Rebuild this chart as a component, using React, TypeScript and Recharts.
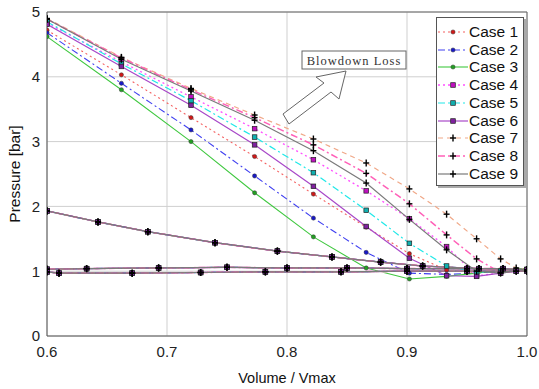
import React from 'react';
import { LineChart, Line, XAxis, YAxis, CartesianGrid, ReferenceLine } from 'recharts';

// volume positions of the expansion markers
const EXP_V = [0.6, 0.662, 0.72, 0.773, 0.822, 0.866, 0.902, 0.933, 0.958, 0.978, 0.991, 1.0];

// expansion pressure for each case [bar]
const CASE1_P = [4.72, 4.03, 3.37, 2.77, 2.19, 1.68, 1.27, 1.02, 0.98, 1.0, 1.01, 1.02];
const CASE2_P = [4.68, 3.9, 3.18, 2.47, 1.82, 1.29, 0.97, 0.95, 0.97, 1.0, 1.0, 1.02];
const CASE3_P = [4.62, 3.8, 3.0, 2.21, 1.53, 1.05, 0.88, 0.92, 0.97, 1.02, 1.03, 1.04];
const CASE4_P = [4.83, 4.23, 3.69, 3.2, 2.72, 2.24, 1.81, 1.38, 0.93, 0.97, 1.0, 1.03];
const CASE5_P = [4.85, 4.2, 3.63, 3.07, 2.52, 1.94, 1.43, 1.08, 0.98, 1.0, 1.0, 1.02];
const CASE6_P = [4.81, 4.16, 3.56, 2.95, 2.31, 1.69, 1.2, 0.93, 0.92, 0.97, 1.0, 1.02];
const CASE7_P = [4.9, 4.3, 3.82, 3.41, 3.04, 2.67, 2.27, 1.88, 1.5, 1.19, 1.05, 1.02];
const CASE8_P = [4.89, 4.29, 3.8, 3.37, 2.95, 2.51, 2.04, 1.56, 1.19, 0.98, 1.0, 1.02];
const CASE9_P = [4.89, 4.27, 3.78, 3.33, 2.86, 2.36, 1.8, 1.33, 1.0, 0.97, 1.0, 1.02];

// low pressure part of the loop, common to all cases
const EXHAUST_V = [0.98, 0.95, 0.9, 0.85, 0.8, 0.75, 0.693, 0.633, 0.6];
const EXHAUST_P = [1.04, 1.04, 1.04, 1.05, 1.05, 1.06, 1.05, 1.04, 1.03];
const INTAKE_V = [0.6, 0.61, 0.671, 0.728, 0.782, 0.845, 0.9, 0.95, 1.0];
const INTAKE_P = [0.99, 0.97, 0.97, 0.98, 0.99, 0.99, 1.0, 1.0, 1.0];
const COMP_V = [1.0, 0.96, 0.913, 0.878, 0.8375, 0.792, 0.74, 0.684, 0.6425, 0.6];
const COMP_P = [1.02, 1.04, 1.08, 1.14, 1.22, 1.31, 1.44, 1.61, 1.76, 1.93];

const X_TICKS = [0.6, 0.7, 0.8, 0.9, 1.0];
const Y_TICKS = [0, 1, 2, 3, 4, 5];

type Marker = 'circle' | 'square' | 'plus';

const CASES: { name: string; pressure: number[]; color: string; dash?: string; width: number; marker: Marker; markerFill: string }[] = [
  { name: 'Case 1', pressure: CASE1_P, color: '#f46060', dash: '2 3', width: 1.1, marker: 'circle', markerFill: '#d01818' },
  { name: 'Case 2', pressure: CASE2_P, color: '#4040f0', dash: '7 3 2 3', width: 1.1, marker: 'circle', markerFill: '#1818c8' },
  { name: 'Case 3', pressure: CASE3_P, color: '#40c840', width: 1.1, marker: 'circle', markerFill: '#22a022' },
  { name: 'Case 4', pressure: CASE4_P, color: '#ff50ff', dash: '2 3', width: 1.3, marker: 'square', markerFill: '#c010c0' },
  { name: 'Case 5', pressure: CASE5_P, color: '#20e8e8', dash: '7 3 2 3', width: 1.2, marker: 'square', markerFill: '#10b0b0' },
  { name: 'Case 6', pressure: CASE6_P, color: '#a848c8', width: 1.2, marker: 'square', markerFill: '#8020a0' },
  { name: 'Case 7', pressure: CASE7_P, color: '#f0a888', dash: '5 4', width: 1.2, marker: 'plus', markerFill: '#000' },
  { name: 'Case 8', pressure: CASE8_P, color: '#ff60b8', dash: '7 3 2 3', width: 1.5, marker: 'plus', markerFill: '#000' },
  { name: 'Case 9', pressure: CASE9_P, color: '#7a7a7a', width: 1.2, marker: 'plus', markerFill: '#000' },
];

const buildLoop = (pressure: number[]) => [
  ...EXP_V.map((v, i) => ({ v, p: pressure[i] })),
  ...EXHAUST_V.map((v, i) => ({ v, p: EXHAUST_P[i] })),
  ...INTAKE_V.map((v, i) => ({ v, p: INTAKE_P[i] })),
  ...COMP_V.map((v, i) => ({ v, p: COMP_P[i] })),
];

const drawMarker = (marker: Marker, fill: string, cx: number, cy: number, key?: string) => {
  if (marker === 'circle') {
    return <circle key={key} cx={cx} cy={cy} r={2.1} fill={fill} stroke="#333" strokeWidth={0.5} />;
  }
  if (marker === 'square') {
    return <rect key={key} x={cx - 2.3} y={cy - 2.3} width={4.6} height={4.6} fill={fill} stroke="#222" strokeWidth={0.7} />;
  }
  return (
    <g key={key} stroke="#000" strokeWidth={1.4}>
      <line x1={cx - 3} y1={cy} x2={cx + 3} y2={cy} />
      <line x1={cx} y1={cy - 3.5} x2={cx} y2={cy + 3.5} />
    </g>
  );
};

const LegendBox = () => (
  <div
    style={{
      position: 'absolute',
      left: 436,
      top: 17,
      width: 86,
      height: 167,
      background: '#fff',
      border: '1px solid #555',
      boxShadow: '2px 2px 0 #aaa',
      fontFamily: 'Liberation Sans, Arial, sans-serif',
      fontSize: 15.5,
      color: '#111',
    }}
  >
    {CASES.map((c, i) => (
      <div key={c.name} style={{ position: 'absolute', left: 1, top: 5 + i * 17.7, height: 18, display: 'flex', alignItems: 'center' }}>
        <svg width={30} height={18} style={{ display: 'block' }}>
          <line x1={0} y1={9} x2={30} y2={9} stroke={c.color} strokeWidth={c.width} strokeDasharray={c.dash} />
          {drawMarker(c.marker, c.markerFill, 15, 9)}
        </svg>
        <span style={{ marginLeft: 1, lineHeight: '18px', whiteSpace: 'nowrap' }}>{c.name}</span>
      </div>
    ))}
  </div>
);

export default function App() {
  return (
    <div style={{ position: 'absolute', left: 0, top: 0, width: 539, height: 389, background: '#fff' }}>
      <LineChart width={539} height={389} margin={{ top: 12, right: 12, bottom: 0, left: 0 }}>
        <CartesianGrid stroke="#cfcfcf" strokeWidth={1} />
        <XAxis
          type="number"
          dataKey="v"
          domain={[0.6, 1.0]}
          ticks={X_TICKS}
          tickFormatter={(v: number) => v.toFixed(1)}
          allowDataOverflow
          height={53}
          tickSize={0}
          tickMargin={10}
          stroke="#555"
          tick={{ fill: '#222', fontSize: 15, fontFamily: 'Liberation Sans, Arial, sans-serif' }}
        />
        <YAxis
          type="number"
          domain={[0, 5]}
          ticks={Y_TICKS}
          width={47}
          tickSize={0}
          tickMargin={7}
          stroke="#555"
          tick={{ fill: '#222', fontSize: 15, fontFamily: 'Liberation Sans, Arial, sans-serif' }}
        />
        <ReferenceLine y={5} stroke="#666" />
        <ReferenceLine x={1.0} stroke="#666" />
        {CASES.map((c) => (
          <Line
            key={c.name}
            name={c.name}
            data={buildLoop(c.pressure)}
            dataKey="p"
            type="linear"
            stroke={c.color}
            strokeWidth={c.width}
            strokeDasharray={c.dash}
            isAnimationActive={false}
            dot={(props: any) => drawMarker(c.marker, c.markerFill, props.cx, props.cy, `${c.name}-${props.index}`)}
            activeDot={false}
          />
        ))}
      </LineChart>

      <svg width={539} height={389} style={{ position: 'absolute', left: 0, top: 0, pointerEvents: 'none' }}>
        <text
          x={16}
          y={174}
          transform="rotate(-90 16 174)"
          textAnchor="middle"
          dominantBaseline="middle"
          fontSize={15.5}
          fontFamily="Liberation Sans, Arial, sans-serif"
          fill="#111"
        >
          Pressure [bar]
        </text>
        <text x={287} y={383} textAnchor="middle" fontSize={14.5} fontFamily="Liberation Sans, Arial, sans-serif" fill="#111">
          Volume / Vmax
        </text>
        {/* Blowdown loss annotation */}
        <rect x={302} y={51} width={104} height={18} fill="#fff" stroke="#666" strokeWidth={1} />
        <text x={354} y={64.5} textAnchor="middle" fontSize={12.5} letterSpacing={1} fontFamily="Liberation Serif, serif" fill="#333">
          Blowdown Loss
        </text>
        <polygon
          points="346,71 339,99 331,92 289,124 283,114 324,83 316,77"
          fill="#fff"
          stroke="#666"
          strokeWidth={1}
        />
      </svg>
      <LegendBox />
    </div>
  );
}
